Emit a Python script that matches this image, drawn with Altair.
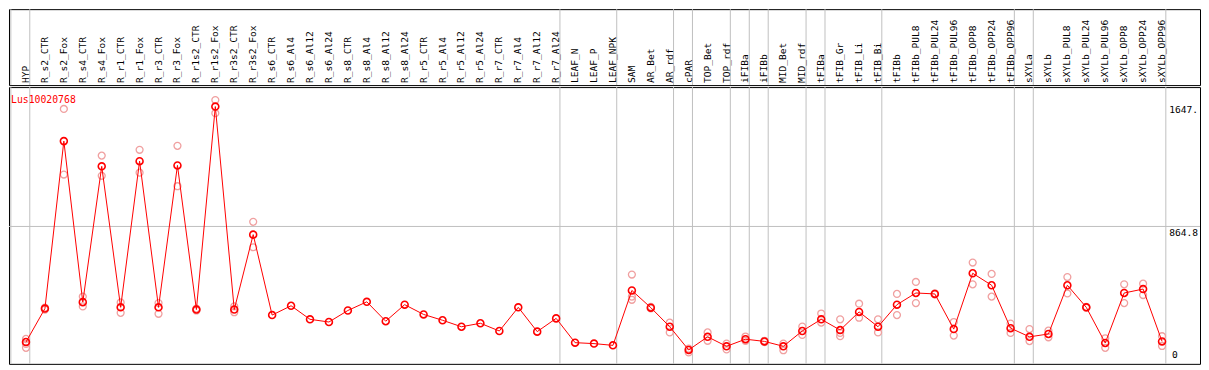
import altair as alt
import pandas as pd

categories = [
    "HYP", "R_s2_CTR", "R_s2_Fox", "R_s4_CTR", "R_s4_Fox", "R_r1_CTR", "R_r1_Fox",
    "R_r3_CTR", "R_r3_Fox", "R_r1s2_CTR", "R_r1s2_Fox", "R_r3s2_CTR", "R_r3s2_Fox",
    "R_s6_CTR", "R_s6_Al4", "R_s6_Al12", "R_s6_Al24", "R_s8_CTR", "R_s8_Al4",
    "R_s8_Al12", "R_s8_Al24", "R_r5_CTR", "R_r5_Al4", "R_r5_Al12", "R_r5_Al24",
    "R_r7_CTR", "R_r7_Al4", "R_r7_Al12", "R_r7_Al24", "LEAF_N", "LEAF_P", "LEAF_NPK",
    "SAM", "AR_Bet", "AR_rdf", "cPAR", "TOP_Bet", "TOP_rdf", "iFIBa", "iFIBb",
    "MID_Bet", "MID_rdf", "tFIBa", "tFIB_Gr", "tFIB_Li", "tFIB_Bi", "tFIBb",
    "tFIBb_PUL8", "tFIBb_PUL24", "tFIBb_PUL96", "tFIBb_OPP8", "tFIBb_OPP24",
    "tFIBb_OPP96", "sXYLa", "sXYLb", "sXYLb_PUL8", "sXYLb_PUL24", "sXYLb_PUL96",
    "sXYLb_OPP8", "sXYLb_OPP24", "sXYLb_OPP96",
]

mean_values = [
    132, 344, 1406, 385, 1246, 352, 1279, 352, 1252, 338, 1625, 338, 813,
    303, 362, 276, 259, 332, 387, 264, 369, 307, 270, 229, 251, 202, 352, 198, 282,
    128, 122, 111, 459, 350, 229, 82, 165, 105, 150, 136, 105, 202, 276, 208, 323,
    229, 369, 443, 437, 214, 568, 492, 220, 165, 183, 492, 352, 126, 443, 468, 136,
]

rep_a = [
    152, 350, 1610, 420, 1314, 383, 1351, 379, 1376, 344, 1666, 358, 894,
    None, None, None, None, None, None, None, None, None, None, None, None, None, None, None, None,
    None, None, None, 560, 355, 255, 66, 193, 122, 167, 140, 122, 230, 313, 276, 375,
    276, 437, 513, 440, 259, 636, 564, 249, 214, 204, 544, 355, 156, 498, 502, 169,
]
rep_b = [
    95, 338, 1194, 358, 1186, 317, 1206, 311, 1120, 332, 1583, 321, 733,
    None, None, None, None, None, None, None, None, None, None, None, None, None, None, None, None,
    None, None, None, 420, 345, 193, 90, 140, 85, 140, 132, 80, 177, 255, 190, 286,
    193, 303, 379, 434, 173, 498, 420, 190, 138, 162, 440, 349, 95, 379, 430, 107,
]
rep_c = [None] * 61
rep_c[0] = 120
rep_c[32] = 400
rep_c[43] = 169

# group separators: drawn just after these category indices
group_breaks = [-1, 0, 28, 31, 34, 35, 37, 38, 39, 41, 42, 45, 52, 53, 60]

y_ticks = [0, 864.8, 1647]
y_tick_labels = ["0", "864.8", "1647."]
mid_grid = [864.8]
gene_name = "Lus10020768"

RED = "#ff0000"
PINK = "#f0a0a0"
GRID = "#c0c0c0"
FONT = "DejaVu Sans Mono"
W = 1192
H_HEAD = 76
H_DATA = 277

cat_df = pd.DataFrame({"idx": list(range(len(categories))), "name": categories, "mean": mean_values})
rows = []
for i in range(len(categories)):
    for r in (rep_a, rep_b, rep_c):
        if r[i] is not None:
            rows.append({"idx": i, "value": r[i]})
rep_df = pd.DataFrame(rows)
brk_df = pd.DataFrame({"pos": [b + 0.2 for b in group_breaks]})
grid_df = pd.DataFrame({"v": mid_grid})
tick_df = pd.DataFrame({"v": y_ticks, "label": y_tick_labels})
title_df = pd.DataFrame({"t": [gene_name]})

xscale = alt.Scale(domain=[-0.897, 62.005], nice=False, zero=False)
yscale = alt.Scale(domain=[-6.34, 1748.6], nice=False, zero=False)

# ---------- header ----------
head_rules = alt.Chart(brk_df).mark_rule(color=GRID, strokeWidth=1).encode(
    x=alt.X("pos:Q", scale=xscale, axis=None)
)
head_text = alt.Chart(cat_df).mark_text(
    angle=270, align="left", baseline="middle", font=FONT, fontSize=9.6, color="black", dx=0
).encode(
    x=alt.X("idx:Q", scale=xscale, axis=None),
    y=alt.value(H_HEAD - 2),
    text="name:N",
)
header = alt.layer(head_rules, head_text).properties(width=W, height=H_HEAD)

# ---------- data ----------
v_rules = alt.Chart(brk_df).mark_rule(color=GRID, strokeWidth=1).encode(
    x=alt.X("pos:Q", scale=xscale, axis=None)
)
h_rule = alt.Chart(grid_df).mark_rule(color=GRID, strokeWidth=1).encode(
    y=alt.Y("v:Q", scale=yscale, axis=None)
)
reps = alt.Chart(rep_df).mark_point(
    shape="circle", filled=False, color=PINK, size=48, strokeWidth=1.3, opacity=1
).encode(
    x=alt.X("idx:Q", scale=xscale, axis=None),
    y=alt.Y("value:Q", scale=yscale, axis=None),
)
line = alt.Chart(cat_df).mark_line(color=RED, strokeWidth=1).encode(
    x=alt.X("idx:Q", scale=xscale, axis=None),
    y=alt.Y("mean:Q", scale=yscale, axis=None),
)
means = alt.Chart(cat_df).mark_point(
    shape="circle", filled=False, color=RED, size=48, strokeWidth=1.6, opacity=1
).encode(
    x=alt.X("idx:Q", scale=xscale, axis=None),
    y=alt.Y("mean:Q", scale=yscale, axis=None),
)
ylab_top = alt.Chart(tick_df).transform_filter("datum.v > 0").mark_text(
    align="right", baseline="top", font=FONT, fontSize=9.6, color="black", dy=2
).encode(
    x=alt.value(W - 2),
    y=alt.Y("v:Q", scale=yscale, axis=None),
    text="label:N",
)
ylab_zero = alt.Chart(tick_df).transform_filter("datum.v == 0").mark_text(
    align="left", baseline="bottom", font=FONT, fontSize=9.6, color="black", dy=-3
).encode(
    x=alt.value(W - 28),
    y=alt.Y("v:Q", scale=yscale, axis=None),
    text="label:N",
)
title = alt.Chart(title_df).mark_text(
    align="left", baseline="top", font=FONT, fontSize=9.8, color=RED
).encode(
    x=alt.value(2),
    y=alt.value(8),
    text="t:N",
)
data = alt.layer(v_rules, h_rule, reps, line, means, ylab_top, ylab_zero, title).properties(
    width=W, height=H_DATA
)

chart = alt.vconcat(header, data, spacing=0).properties(
    padding=0, background="white"
).configure_view(
    stroke="black", strokeWidth=1
).configure_concat(spacing=0)

chart.save("out.html", embed_options={"renderer": "svg", "actions": False})
